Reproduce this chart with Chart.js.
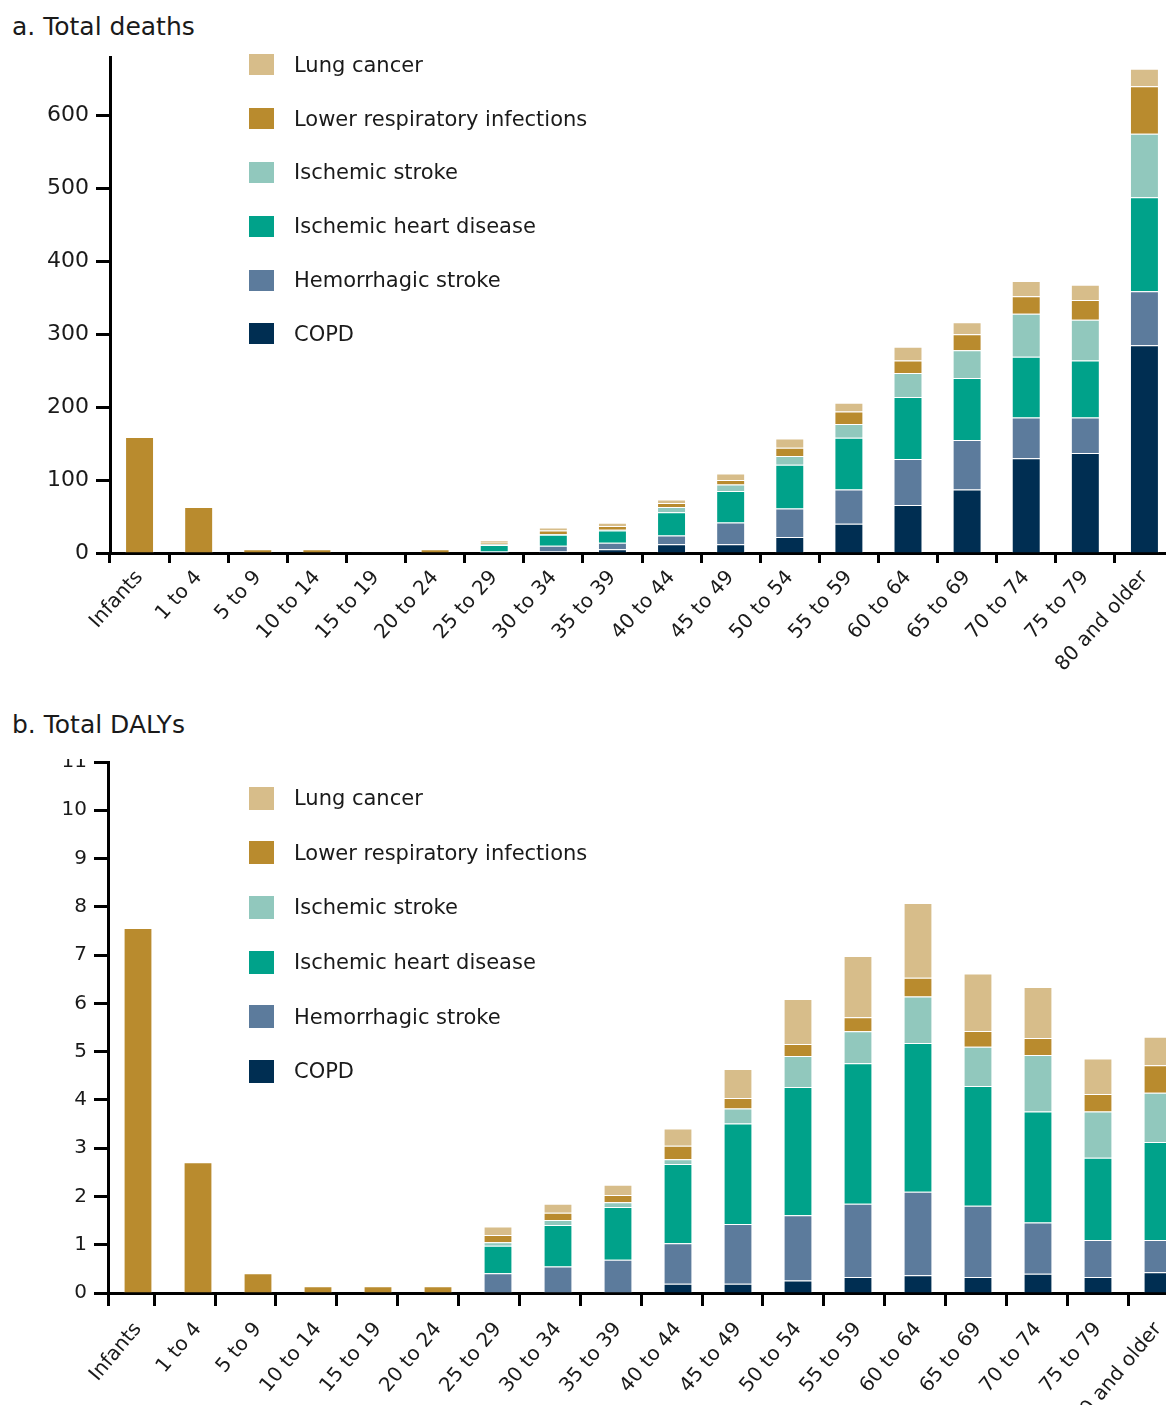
<!DOCTYPE html>
<html>
<head>
<meta charset="utf-8">
<title>Total deaths and DALYs by age group</title>
<script src="https://cdn.jsdelivr.net/npm/chart.js@4.4.1/dist/chart.umd.min.js"></script>
<style>
	html, body { margin: 0; padding: 0; background: #fff; }
	body { width: 1166px; height: 1405px; overflow: hidden; position: relative; font-family: 'DejaVu Sans', sans-serif; color: #1a1a1a; }
	.title { position: absolute; left: 12px; font-size: 25px; white-space: nowrap; }
	#titleA { top: 12px; }
	#titleB { top: 710px; }
	#chartA { position: absolute; left: 0; top: 37px; }
	#wrapB { position: absolute; left: 0; top: 759px; width: 1166px; height: 646px; overflow: hidden; }
	#chartB { position: absolute; left: 0; top: -17px; }
	.legend { position: absolute; left: 249px; font-size: 21px; z-index: 2; }
	.legend .row { display: flex; align-items: center; white-space: nowrap; }
	.legend .box { display: inline-block; width: 25px; margin-right: 20px; }
</style>
</head>
<body>
<div class="title" id="titleA">a. Total deaths</div>
<canvas id="chartA" width="1174" height="656"></canvas>
<div class="legend" id="legendA" style="top:38px"></div>

<div class="title" id="titleB">b. Total DALYs</div>
<div id="wrapB"><canvas id="chartB" width="1188" height="691"></canvas></div>
<div class="legend" id="legendB" style="top:771px"></div>

<script>
// age groups
var ages = ['Infants', '1 to 4', '5 to 9', '10 to 14', '15 to 19', '20 to 24', '25 to 29', '30 to 34',
	'35 to 39', '40 to 44', '45 to 49', '50 to 54', '55 to 59', '60 to 64', '65 to 69', '70 to 74',
	'75 to 79', '80 and older'];

// a. total deaths
var deathsCOPD   = [0, 0, 0, 0, 0, 0, 0.5, 2, 5, 12, 12, 22, 40, 66, 87, 130, 137, 285];
var deathsHem    = [0, 0, 0, 0, 0, 0, 1.5, 8, 9, 12, 30, 39, 47, 63, 68, 56, 49, 74];
var deathsIHD    = [0, 0, 0, 0, 0, 0, 9, 15, 17, 32, 43, 60, 71, 85, 85, 83, 78, 129];
var deathsStroke = [0, 0, 0, 0, 0, 0, 1, 1, 1, 7, 9, 12, 19, 33, 38, 59, 56, 87];
var deathsLRI    = [159, 63, 5, 5, 1, 5, 2, 5, 5, 5.5, 6, 11.5, 17, 17, 22, 24, 27, 65];
var deathsLung   = [0, 0, 0, 0, 0, 0, 3.5, 4, 4.5, 5, 9, 12.5, 12, 19, 16.5, 21, 21, 24];
var deathsTicks  = [0, 100, 200, 300, 400, 500, 600];

// b. total DALYs
var dalysCOPD   = [0, 0, 0, 0, 0, 0, 0, 0, 0, 0.19, 0.19, 0.26, 0.33, 0.37, 0.33, 0.40, 0.33, 0.43];
var dalysHem    = [0, 0, 0, 0, 0, 0, 0.41, 0.55, 0.69, 0.84, 1.24, 1.35, 1.52, 1.73, 1.48, 1.06, 0.77, 0.67];
var dalysIHD    = [0, 0, 0, 0, 0, 0, 0.57, 0.86, 1.09, 1.64, 2.08, 2.66, 2.91, 3.08, 2.48, 2.30, 1.70, 2.03];
var dalysStroke = [0, 0, 0, 0, 0, 0, 0.07, 0.10, 0.10, 0.10, 0.31, 0.64, 0.66, 0.96, 0.81, 1.17, 0.96, 1.02];
var dalysLRI    = [7.56, 2.71, 0.41, 0.14, 0.14, 0.14, 0.15, 0.15, 0.15, 0.28, 0.22, 0.25, 0.29, 0.39, 0.33, 0.35, 0.36, 0.57];
var dalysLung   = [0, 0, 0, 0, 0, 0, 0.18, 0.19, 0.21, 0.36, 0.60, 0.93, 1.27, 1.55, 1.19, 1.06, 0.74, 0.59];
var dalysTicks  = [0, 1, 2, 3, 4, 5, 6, 7, 8, 9, 10, 11];

var causes = ['COPD', 'Hemorrhagic stroke', 'Ischemic heart disease', 'Ischemic stroke',
	'Lower respiratory infections', 'Lung cancer'];
var colors = ['#002E52', '#5C7B9C', '#00A28A', '#91C8BD', '#B98B2E', '#D7BD8A'];

Chart.defaults.font.family = "'DejaVu Sans', sans-serif";
Chart.defaults.color = '#1a1a1a';

function makeDatasets(series, barPct) {
	return series.map(function(values, i) {
		return {
			label: causes[i],
			data: values,
			xAxisID: 'x',
			yAxisID: 'y',
			backgroundColor: colors[i],
			borderColor: 'rgba(255,255,255,0.45)',
			borderWidth: 1,
			categoryPercentage: 1,
			barPercentage: barPct
		};
	});
}

function makeLegend(id, rowHeight, boxHeight) {
	var el = document.getElementById(id);
	for (var i = causes.length - 1; i >= 0; i--) {
		var row = document.createElement('div');
		row.className = 'row';
		row.style.height = rowHeight + 'px';
		var box = document.createElement('span');
		box.className = 'box';
		box.style.height = boxHeight + 'px';
		box.style.background = colors[i];
		row.appendChild(box);
		row.appendChild(document.createTextNode(causes[i]));
		el.appendChild(row);
	}
}

var axisLine = { display: true, width: 3, color: '#000' };

// a. Total deaths
var optionsA = {
	type: 'bar',
	data: {
		labels: ages,
		datasets: makeDatasets([deathsCOPD, deathsHem, deathsIHD, deathsStroke, deathsLRI, deathsLung], 0.49)
	},
	options: {
		responsive: false,
		animation: false,
		layout: { padding: { top: 20, left: 0, right: 0, bottom: 0 } },
		plugins: { legend: { display: false }, tooltip: { enabled: false } },
		scales: {
			x: {
				stacked: true,
				offset: true,
				grid: { display: true, drawOnChartArea: false, offset: true, tickLength: 10, tickWidth: 3, color: '#000' },
				border: axisLine,
				ticks: { autoSkip: false, maxRotation: 48, minRotation: 48, padding: 3, font: { size: 20 }, color: '#1a1a1a' },
				afterFit: function(s) { s.height = 140; }
			},
			y: {
				stacked: true,
				min: 0,
				max: 680,
				grid: { drawOnChartArea: false, tickLength: 14, tickWidth: 3, color: '#000' },
				border: axisLine,
				ticks: { padding: 7, font: { size: 22 }, color: '#1a1a1a', includeBounds: false },
				afterBuildTicks: function(s) { s.ticks = deathsTicks.map(function(v) { return { value: v }; }); },
				afterFit: function(s) { s.width = 110; }
			}
		}
	}
};

// b. Total DALYs (tick marks in the source sit a little right of the bar centres)
var optionsB = {
	type: 'bar',
	data: {
		labels: ages,
		datasets: makeDatasets([dalysCOPD, dalysHem, dalysIHD, dalysStroke, dalysLRI, dalysLung], 0.48)
	},
	options: {
		responsive: false,
		animation: false,
		layout: { padding: { top: 20, left: 0, right: 0, bottom: 0 } },
		plugins: { legend: { display: false }, tooltip: { enabled: false } },
		scales: {
			x: {
				stacked: true,
				offset: true,
				weight: 1,
				grid: { display: false },
				border: { display: false },
				ticks: { autoSkip: false, maxRotation: 50, minRotation: 50, padding: 4, font: { size: 20 }, color: '#1a1a1a' },
				afterFit: function(s) { s.height = 127; }
			},
			xt: {
				type: 'linear',
				position: 'bottom',
				weight: 0,
				min: -0.5,
				max: 17.5,
				offset: false,
				grid: { display: true, offset: false, drawOnChartArea: false, tickLength: 13, tickWidth: 3, color: '#000' },
				border: axisLine,
				ticks: { display: false },
				afterBuildTicks: function(s) {
					var t = [{ value: -0.5 }];
					for (var i = 0; i < 18; i++) t.push({ value: 0.27 + i * 1.0145 });
					s.ticks = t;
				},
				afterFit: function(s) { s.height = 13; }
			},
			y: {
				stacked: true,
				min: 0,
				max: 11,
				grid: { drawOnChartArea: false, tickLength: 14, tickWidth: 3, color: '#000' },
				border: axisLine,
				ticks: { padding: 7, font: { size: 20 }, color: '#1a1a1a' },
				afterBuildTicks: function(s) { s.ticks = dalysTicks.map(function(v) { return { value: v }; }); },
				afterFit: function(s) { s.width = 108; }
			}
		}
	}
};

var chartA = new Chart(document.getElementById('chartA').getContext('2d'), optionsA);
var chartB = new Chart(document.getElementById('chartB').getContext('2d'), optionsB);

makeLegend('legendA', 53.8, 21);
makeLegend('legendB', 54.6, 23);
</script>
</body>
</html>
